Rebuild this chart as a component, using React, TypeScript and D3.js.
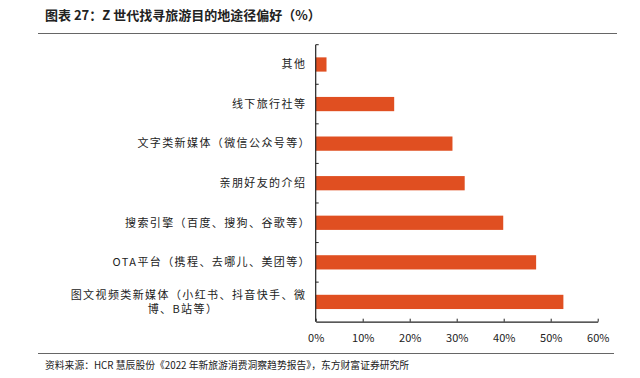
import React, { useEffect, useRef } from "react";
import * as d3 from "d3";

const categories = [
  "其他",
  "线下旅行社等",
  "文字类新媒体（微信公众号等）",
  "亲朋好友的介绍",
  "搜索引擎（百度、搜狗、谷歌等）",
  "OTA平台（携程、去哪儿、美团等）",
  "图文视频类新媒体（小红书、抖音快手、微|博、B站等）",
];
const values = [2.3, 16.7, 29.1, 31.7, 39.9, 46.9, 52.7];
const xTicks = [0, 10, 20, 30, 40, 50, 60];
const title = "图表 27：Z 世代找寻旅游目的地途径偏好（%）";
const source = "资料来源：HCR 慧辰股份《2022 年新旅游消费洞察趋势报告》，东方财富证券研究所";

export default function App() {
  const ref = useRef<SVGSVGElement>(null);
  useEffect(() => {
    const svg = d3.select(ref.current);
    svg.selectAll("*").remove();
    const W = 640, H = 378;
    const left = 315.7, right = 597.7, top = 44.7, bottom = 321.7;
    const font = "'Noto Sans CJK SC', 'Noto Sans', sans-serif";

    svg.append("rect").attr("width", W).attr("height", H).attr("fill", "#fff");

    svg.append("text").attr("x", 45).attr("y", 20).attr("font-family", font)
      .attr("font-size", 13).attr("font-weight", "bold").attr("fill", "#222").text(title);
    svg.append("line").attr("x1", 38).attr("x2", 617).attr("y1", 33.5).attr("y2", 33.5)
      .attr("stroke", "#666").attr("stroke-width", 1.2);
    svg.append("line").attr("x1", 38).attr("x2", 614).attr("y1", 353.5).attr("y2", 353.5)
      .attr("stroke", "#666").attr("stroke-width", 1.2);
    svg.append("text").attr("x", 45).attr("y", 369).attr("font-family", font)
      .attr("font-size", 9.8).attr("fill", "#222").text(source);

    const x = d3.scaleLinear().domain([0, 60]).range([left, right]);
    const y = d3.scaleBand<string>().domain(categories).range([top, bottom]).paddingInner(0.64).paddingOuter(0.32);

    svg.append("g").selectAll("rect").data(values).join("rect")
      .attr("x", x(0))
      .attr("y", (_d, i) => y(categories[i])!)
      .attr("width", (d) => x(d) - x(0))
      .attr("height", y.bandwidth())
      .attr("fill", "#E04F21");

    // x axis
    const xa = svg.append("g").attr("transform", `translate(0,${bottom})`)
      .call(d3.axisBottom(x).tickValues(xTicks).tickSizeInner(-3).tickSizeOuter(0).tickFormat((d) => `${d}%`));
    xa.select(".domain").attr("stroke", "#222").attr("stroke-width", 1.2);
    xa.selectAll(".tick line").attr("stroke", "#222");
    xa.selectAll(".tick text").attr("font-family", font).attr("font-size", 11).attr("fill", "#222").attr("dy", "1.6em");

    // y axis
    const step = (bottom - top) / categories.length;
    const ya = svg.append("g").attr("transform", `translate(${left},0)`);
    ya.append("line").attr("x1", 0).attr("x2", 0).attr("y1", top).attr("y2", bottom).attr("stroke", "#222").attr("stroke-width", 1.2);
    const bounds = d3.range(categories.length).map((i) => top + i * step);
    ya.selectAll("line.tk").data(bounds).join("line").attr("class", "tk")
      .attr("x1", 0).attr("x2", 3).attr("y1", (d) => d).attr("y2", (d) => d).attr("stroke", "#222");

    const labels = svg.append("g");
    const addLabel = (txt: string, xx: number, yy: number, anchor: string) => {
      const isParenEnd = txt.endsWith("）");
      labels.append("text")
        .attr("x", anchor === "end" ? xx + (isParenEnd ? 6 : 1.3) : xx)
        .attr("y", yy).attr("dy", "0.35em")
        .attr("text-anchor", anchor).attr("font-family", font).attr("font-size", 11)
        .attr("letter-spacing", 1.4).attr("fill", "#222").text(txt);
    };
    categories.forEach((c, i) => {
      const cy = y(c)! + y.bandwidth() / 2;
      const parts = c.split("|");
      if (parts.length === 1) {
        addLabel(c, 305, cy, "end");
      } else {
        addLabel(parts[0], 305, cy - 7, "end");
        addLabel(parts[1], 183, cy + 7.5, "middle");
      }
    });
  }, []);
  return (
    <svg ref={ref} width={640} height={378} style={{ position: "absolute", left: 0, top: 0 }} />
  );
}
